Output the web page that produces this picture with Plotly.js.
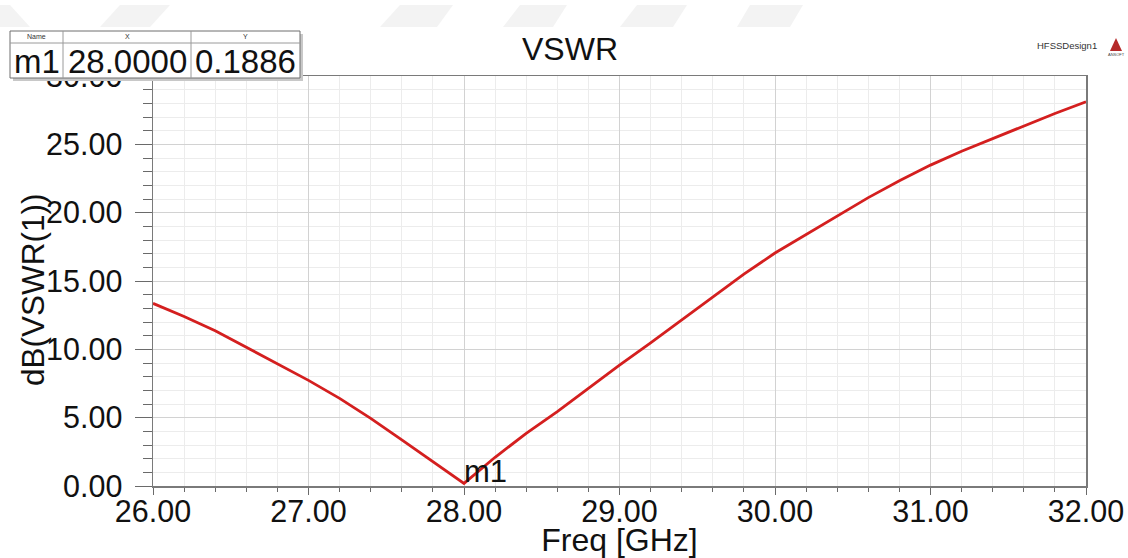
<!DOCTYPE html>
<html>
<head>
<meta charset="utf-8">
<script src="https://cdn.plot.ly/plotly-3.0.1.min.js"></script>
<style>
  html, body { margin: 0; padding: 0; background: #ffffff; }
  #chart { width: 1128px; height: 558px; }
</style>
</head>
<body>
<div id="chart"></div>
<script>
// ---- data ----
const freqGHz = [26.0, 26.2, 26.4, 26.6, 26.8, 27.0, 27.2, 27.4, 27.6, 27.8, 28.0,
                 28.2, 28.4, 28.6, 28.8, 29.0, 29.2, 29.4, 29.6, 29.8, 30.0,
                 30.2, 30.4, 30.6, 30.8, 31.0, 31.2, 31.4, 31.6, 31.8, 32.0];
const vswrDb = [13.36, 12.40, 11.36, 10.17, 8.97, 7.73, 6.41, 4.95, 3.37, 1.78, 0.1886,
                2.10, 3.85, 5.44, 7.15, 8.85, 10.48, 12.14, 13.85, 15.50, 17.05,
                18.40, 19.78, 21.10, 22.33, 23.48, 24.50, 25.43, 26.33, 27.26, 28.11];
const markerName = "m1";
const markerX = 28.0000;
const markerY = 0.1886;
const tableHeaders = ["Name", "X", "Y"];
const xTickVals = [26, 27, 28, 29, 30, 31, 32];
const yTickVals = [0, 5, 10, 15, 20, 25, 30];
const xTitle = "Freq [GHz]";
const yTitle = "dB(VSWR(1))";
const chartTitle = "VSWR";

// ---- layout geometry (pixels) ----
const W = 1128, H = 558;
const PL = 153, PR = 1086, PT = 76, PB = 486;
const px = v => (v - PL) / (PR - PL);   // pixel x -> paper
const py = v => (PB - v) / (PB - PT);   // pixel y -> paper
const FONT = 'Arial, "Liberation Sans", Helvetica, sans-serif';

const shapes = [];
const annotations = [];

// faint watermark parallelograms at the top
const wm = [[0, 30, -20, 10], [100, 150, 120, 170], [380, 437, 400, 453], [503, 553, 520, 567],
            [620, 673, 637, 687], [737, 790, 750, 803]];
wm.forEach(([bl, br, tl, tr]) => {
  shapes.push({type: 'path', xref: 'paper', yref: 'paper', layer: 'above',
    path: `M ${px(bl)} ${py(27)} L ${px(br)} ${py(27)} L ${px(tr)} ${py(5)} L ${px(tl)} ${py(5)} Z`,
    fillcolor: '#f3f3f3', line: {width: 0}});
});

// marker table: shadow + cells
const tX0 = 10, tX1 = 300, tY0 = 31, tYm = 43, tY1 = 78, c1 = 63, c2 = 191;
shapes.push({type: 'rect', xref: 'paper', yref: 'paper', layer: 'above',
  x0: px(tX0 + 3), x1: px(tX1 + 3), y0: py(tY0 + 3), y1: py(tY1 + 3),
  fillcolor: '#c8c8c8', line: {width: 0}});
shapes.push({type: 'rect', xref: 'paper', yref: 'paper', layer: 'above',
  x0: px(tX0), x1: px(tX1), y0: py(tY0), y1: py(tY1),
  fillcolor: '#ffffff', line: {color: '#6e6e6e', width: 1}});
shapes.push({type: 'line', xref: 'paper', yref: 'paper', layer: 'above',
  x0: px(tX0), x1: px(tX1), y0: py(tYm), y1: py(tYm), line: {color: '#9a9a9a', width: 1}});
[c1, c2].forEach(c => shapes.push({type: 'line', xref: 'paper', yref: 'paper', layer: 'above',
  x0: px(c), x1: px(c), y0: py(tY0), y1: py(tY1), line: {color: '#9a9a9a', width: 1}}));

const colCenters = [(tX0 + c1) / 2, (c1 + c2) / 2, (c2 + tX1) / 2];
tableHeaders.forEach((h, i) => annotations.push({
  xref: 'paper', yref: 'paper', x: px(colCenters[i]), y: py((tY0 + tYm) / 2),
  xanchor: 'center', yanchor: 'middle', showarrow: false, text: h,
  font: {family: FONT, size: 7, color: '#333'}}));
const rowVals = [markerName, markerX.toFixed(4), markerY.toFixed(4)];
rowVals.forEach((v, i) => annotations.push({
  xref: 'paper', yref: 'paper', x: px(colCenters[i]), y: py((tYm + tY1) / 2 + 1),
  xanchor: 'center', yanchor: 'middle', showarrow: false, text: v,
  font: {family: FONT, size: 33, color: '#111'}}));

// marker label on the curve
annotations.push({xref: 'x', yref: 'y', x: markerX, y: markerY, xanchor: 'left', yanchor: 'bottom',
  showarrow: false, text: markerName, xshift: -2, yshift: -8,
  font: {family: FONT, size: 31, color: '#111'}});

// y-axis title (placed as rotated text to sit tight against the tick labels)
annotations.push({xref: 'paper', yref: 'paper', x: px(33), y: py(290), xanchor: 'center', yanchor: 'middle',
  showarrow: false, text: yTitle, textangle: -90, font: {family: FONT, size: 31.5, color: '#111'}});

// HFSSDesign1 + logo
annotations.push({xref: 'paper', yref: 'paper', x: px(1067), y: py(46), xanchor: 'center', yanchor: 'middle',
  showarrow: false, text: 'HFSSDesign1', font: {family: FONT, size: 9.5, color: '#333'}});
shapes.push({type: 'path', xref: 'paper', yref: 'paper', layer: 'above',
  path: `M ${px(1110)} ${py(51)} L ${px(1116)} ${py(38)} L ${px(1122)} ${py(51)} Z`,
  fillcolor: '#b52a2a', line: {width: 0}});
annotations.push({xref: 'paper', yref: 'paper', x: px(1116), y: py(55), xanchor: 'center', yanchor: 'middle',
  showarrow: false, text: 'ANSOFT', font: {family: FONT, size: 4, color: '#444'}});

const trace = {
  x: freqGHz, y: vswrDb, type: 'scatter', mode: 'lines',
  line: {color: '#d41f1f', width: 2.8}, hoverinfo: 'x+y', showlegend: false
};

const axisCommon = {
  showline: true, linecolor: '#7a7a7a', linewidth: 1.5, mirror: true,
  ticks: 'outside', tickcolor: '#6a6a6a', tickwidth: 1,
  tickfont: {family: FONT, size: 30.5, color: '#111'},
  gridcolor: '#d2d2d2', gridwidth: 1, zeroline: false, automargin: false
};

const layout = {
  width: W, height: H,
  margin: {l: PL, r: W - PR, t: PT, b: H - PB},
  paper_bgcolor: '#ffffff', plot_bgcolor: '#ffffff',
  font: {family: FONT, color: '#111'},
  title: {text: chartTitle, font: {family: FONT, size: 32, color: '#111'},
          xref: 'container', yref: 'container', x: 570 / W, xanchor: 'center',
          y: 1 - 49 / H, yanchor: 'middle'},
  xaxis: Object.assign({}, axisCommon, {
    range: [26, 32], tickvals: xTickVals, tickformat: '.2f', ticklen: 7, ticklabelstandoff: -9,
    minor: {dtick: 0.2, ticks: 'outside', ticklen: 4, tickcolor: '#6a6a6a', showgrid: true, gridcolor: '#ececec'},
    title: {text: xTitle, font: {family: FONT, size: 32, color: '#111'}, standoff: 0}
  }),
  yaxis: Object.assign({}, axisCommon, {
    range: [0, 30], tickvals: yTickVals, tickformat: '.2f', ticklen: 17, ticklabelstandoff: 6,
    minor: {dtick: 1, ticks: 'outside', ticklen: 9, tickcolor: '#6a6a6a', showgrid: true, gridcolor: '#ececec'}
  }),
  shapes: shapes,
  annotations: annotations
};

Plotly.newPlot('chart', [trace], layout, {displayModeBar: false, staticPlot: true});
</script>
</body>
</html>
